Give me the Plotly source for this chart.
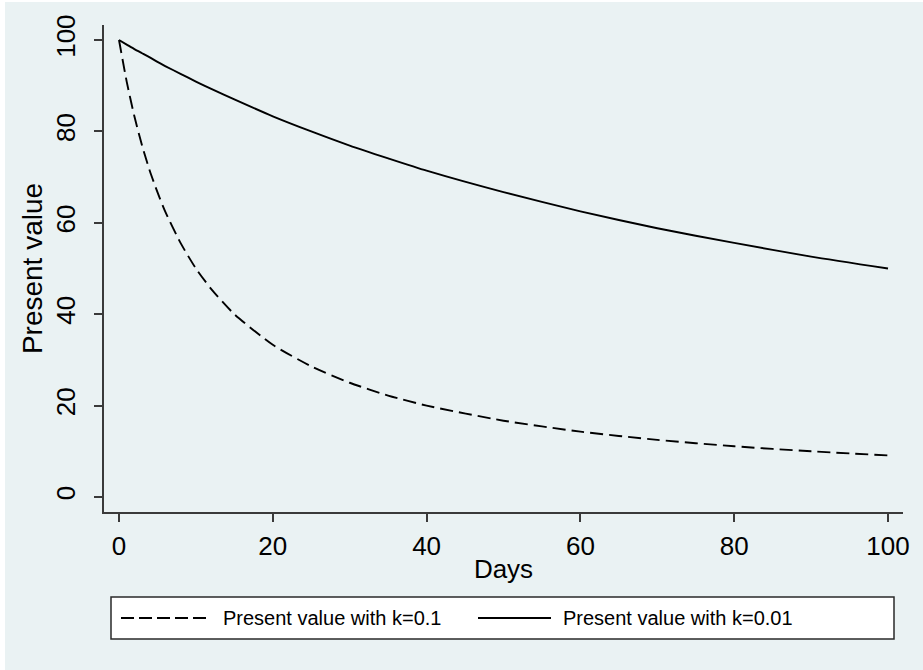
import plotly.graph_objects as go

# Present value of 100 paid after a delay, for two discount rates
days = [0, 1, 2, 3, 4, 5, 6, 8, 10, 12, 15, 20, 25, 30, 35, 40, 50, 60, 70, 80, 90, 100]
pv_k01 = [100, 90.9, 83.3, 76.9, 71.4, 66.7, 62.5, 55.6, 50.0, 45.5, 40.0, 33.3,
          28.6, 25.0, 22.2, 20.0, 16.7, 14.3, 12.5, 11.1, 10.0, 9.1]
pv_k001 = [100, 99.0, 98.0, 97.1, 96.2, 95.2, 94.3, 92.6, 90.9, 89.3, 87.0, 83.3,
           80.0, 76.9, 74.1, 71.4, 66.7, 62.5, 58.8, 55.6, 52.6, 50.0]

series_names = ["Present value with k=0.1", "Present value with k=0.01"]
x_ticks = [0, 20, 40, 60, 80, 100]
y_ticks = [0, 20, 40, 60, 80, 100]

BG = "#EAF2F3"
AXIS = "#3a3a3a"
FONT = "Liberation Sans, Arial, sans-serif"

fig = go.Figure()
fig.add_trace(go.Scatter(x=days, y=pv_k01, mode="lines", name=series_names[0],
                         line=dict(color="black", width=1.9, dash="13px,6px", shape="spline", smoothing=0.6),
                         showlegend=False))
fig.add_trace(go.Scatter(x=days, y=pv_k001, mode="lines", name=series_names[1],
                         line=dict(color="black", width=1.9, shape="spline", smoothing=0.6),
                         showlegend=False))

axis_common = dict(showline=True, linecolor=AXIS, linewidth=1.5, ticks="outside",
                   ticklen=8, tickwidth=1.5, tickcolor=AXIS, zeroline=False,
                   tickfont=dict(size=26, color="black", family=FONT))

fig.update_xaxes(range=[-1.95, 101.95], tickvals=x_ticks, showgrid=False,
                 ticklabelstandoff=2,
                 title=dict(text="Days", font=dict(size=26, color="black", family=FONT), standoff=0),
                 **axis_common)
fig.update_yaxes(range=[-3.28, 103.28], tickvals=y_ticks, showgrid=True,
                 gridcolor=BG, gridwidth=1.5, tickangle=-90, ticklabelstandoff=9,
                 title=dict(text="Present value", font=dict(size=28, color="black", family=FONT), standoff=0),
                 **axis_common)

# Light outer frame behind the plot region
shapes = [dict(type="rect", xref="paper", yref="paper", x0=(5 - 104) / 799, x1=1.2,
               y0=-0.4, y1=(512 - 2) / 487, fillcolor=BG, line=dict(width=0), layer="below")]

# Legend box with line samples
def py(v):
    return (512 - v) / 487

def px(v):
    return (v - 104) / 799

shapes.append(dict(type="rect", xref="paper", yref="paper", x0=px(111), x1=px(894),
                   y0=py(639), y1=py(597), fillcolor="white",
                   line=dict(color="#2a2a2a", width=1.5)))
shapes.append(dict(type="line", xref="paper", yref="paper", x0=px(121), x1=px(209),
                   y0=py(618), y1=py(618), line=dict(color="black", width=1.9, dash="13px,5px")))
shapes.append(dict(type="line", xref="paper", yref="paper", x0=px(478), x1=px(551),
                   y0=py(618), y1=py(618), line=dict(color="black", width=1.9)))

annotations = [
    dict(text=series_names[0], xref="paper", yref="paper", x=px(221), y=py(618),
         xanchor="left", yanchor="middle", showarrow=False,
         font=dict(size=20, color="black", family=FONT)),
    dict(text=series_names[1], xref="paper", yref="paper", x=px(561), y=py(618),
         xanchor="left", yanchor="middle", showarrow=False,
         font=dict(size=20, color="black", family=FONT)),
]

fig.update_layout(width=923, height=670, paper_bgcolor="white", plot_bgcolor="white",
                  margin=dict(l=104, r=20, t=25, b=158), shapes=shapes,
                  annotations=annotations, font=dict(family=FONT, color="black"))

fig.write_html("out.html")
